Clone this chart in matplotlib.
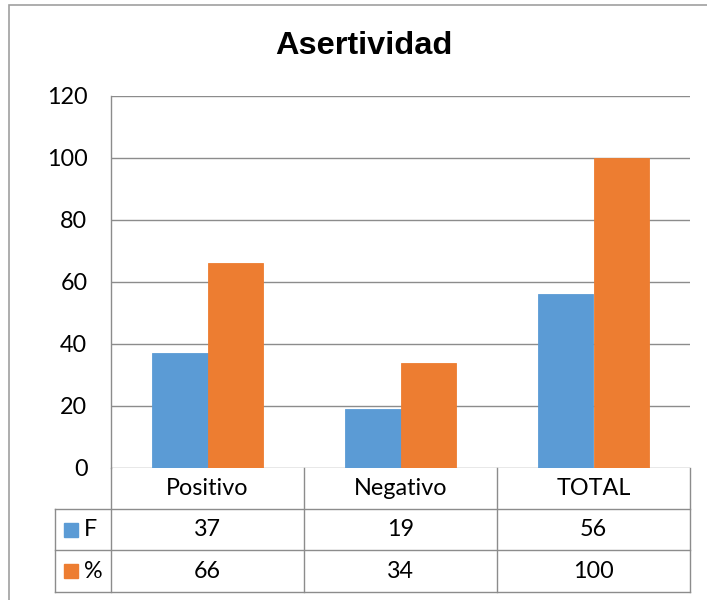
import matplotlib
matplotlib.use("Agg")
import matplotlib.pyplot as plt
import matplotlib.transforms as mtransforms
from matplotlib.patches import Rectangle
from matplotlib.lines import Line2D
import numpy as np

# ---- data ----
categories = ["Positivo", "Negativo", "TOTAL"]
series_names = ["F", "%"]
f_values = [37, 19, 56]
pct_values = [66, 34, 100]
y_ticks = [0, 20, 40, 60, 80, 100, 120]
title = "Asertividad"

colors = ["#5B9BD5", "#ED7D31"]
grid_col = "#8C8C8C"
FONT = "Lato"
FS = 16.8

W, H = 707, 600
fig = plt.figure(figsize=(W / 100, H / 100), dpi=100)

# outer chart border (extends past the right/bottom edge)
fig.patches.append(Rectangle((9 / W, 1 - 5 / H - 1.2), 1.2, 1.2,
                             transform=fig.transFigure, fill=False,
                             edgecolor="#A0A0A0", linewidth=1.2))

L, R, T, B = 111, 690, 96, 468
ax = fig.add_axes([L / W, 1 - B / H, (R - L) / W, (B - T) / H])

x = np.arange(len(categories))
bw = 0.285
series = [f_values, pct_values]
for i, (vals, col) in enumerate(zip(series, colors)):
    ax.bar(x + (i - 0.5) * bw, vals, width=bw, color=col, zorder=3,
           linewidth=0.6, edgecolor=col)

ax.set_xlim(-0.5, len(categories) - 0.5)
ax.set_ylim(0, 120)
ax.set_yticks(y_ticks)
ax.set_yticklabels([str(t) for t in y_ticks], fontsize=FS, family=FONT)
ax.tick_params(axis="y", length=0, pad=17)
ax.set_xticks([])
ax.grid(axis="y", color=grid_col, linewidth=1.0, zorder=0)
for s in ["top", "right", "bottom"]:
    ax.spines[s].set_visible(False)
ax.spines["left"].set_color(grid_col)
ax.spines["left"].set_linewidth(1.0)

fig.text(364 / W, 1 - 46 / H, title, ha="center", va="center",
         fontsize=23.4, fontweight="bold", family="Liberation Sans")

# ---- data table below the axis ----
trans = mtransforms.blended_transform_factory(ax.transData, ax.transAxes)
ph = (B - T)
row_edges_px = [468, 509, 550, 592]
row_edges = [-(r - B) / ph for r in row_edges_px]
leg_left = -(L - 55) / (R - L)  # axes fraction

def hline(y, x0, x1):
    ax.add_line(Line2D([x0, x1], [y, y], transform=ax.transAxes,
                       color=grid_col, lw=1.0, clip_on=False))

def vline(xa, y0, y1):
    ax.add_line(Line2D([xa, xa], [y0, y1], transform=ax.transAxes,
                       color=grid_col, lw=1.0, clip_on=False))

hline(row_edges[1], leg_left, 1)
hline(row_edges[2], leg_left, 1)
hline(row_edges[3], leg_left, 1)
vline(0, row_edges[3], 0)
vline(leg_left, row_edges[3], row_edges[1])
for k in range(1, len(categories) + 1):
    vline(k / len(categories), row_edges[3], 0)

def mid(a, b):
    return (a + b) / 2

for xi, cat in zip(x, categories):
    ax.text(xi, mid(row_edges[0], row_edges[1]), cat, transform=trans,
            ha="center", va="center", fontsize=FS, family=FONT)
for r, vals in enumerate(series):
    yc = mid(row_edges[r + 1], row_edges[r + 2])
    for xi, v in zip(x, vals):
        ax.text(xi, yc, str(v), transform=trans, ha="center", va="center",
                fontsize=FS, family=FONT)
    # legend key
    kx = (64 - L) / (R - L)
    ks = 14 / (R - L)
    khh = 14 / ph
    ax.add_patch(Rectangle((kx, yc - khh / 2), ks, khh, transform=ax.transAxes,
                           color=colors[r], clip_on=False))
    ax.text((84 - L) / (R - L), yc, series_names[r], transform=ax.transAxes,
            ha="left", va="center", fontsize=FS, family=FONT)

fig.savefig("out.png", dpi=100)
